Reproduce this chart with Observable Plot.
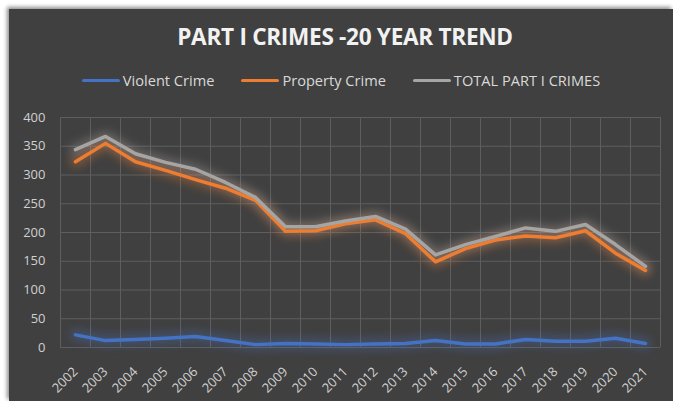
<!DOCTYPE html>
<html>
<head>
<meta charset="utf-8">
<script src="https://cdn.jsdelivr.net/npm/d3@7"></script>
<script src="https://cdn.jsdelivr.net/npm/@observablehq/plot@0.6"></script>
<style>
  html, body { margin: 0; padding: 0; background: #ffffff; width: 673px; height: 401px; overflow: hidden; }
  #frame { position: absolute; left: 9px; top: 9px; width: 664px; height: 392px; background: #404040;
           box-shadow: -2px -2px 4px rgba(0,0,0,0.45); font-family: "Open Sans", sans-serif; }
  #title { position: absolute; left: 4px; width: 100%; top: 12px; text-align: center; color: #f2f2f2;
           font-weight: bold; font-size: 22.6px; letter-spacing: -0.3px; }
  #legend { position: absolute; left: 0; width: 100%; top: 61px; display: flex; justify-content: center;
            gap: 27px; color: #d9d9d9; font-size: 14.6px; }
  .item { display: flex; align-items: center; }
  .sw { width: 38px; height: 3px; border-radius: 2px; margin-right: 3px; }
  #chart { position: absolute; left: 0; top: 86px; }
</style>
</head>
<body>
<div id="frame">
  <div id="title">PART I CRIMES -20 YEAR TREND</div>
  <div id="legend"></div>
  <div id="chart"></div>
</div>
<script>
const years = [2002,2003,2004,2005,2006,2007,2008,2009,2010,2011,2012,2013,2014,2015,2016,2017,2018,2019,2020,2021];
const violent  = [22,12,14,16,19,12,5,7,6,5,6,7,12,6,6,14,11,11,16,7];
const property = [323,355,323,308,292,277,256,202,203,215,222,198,149,172,187,194,191,203,164,134];
const total    = [344,367,337,322,310,287,261,210,210,220,228,206,161,179,193,208,202,214,179,141];
const seriesNames = ["Violent Crime", "Property Crime", "TOTAL PART I CRIMES"];
const seriesColors = ["#4472C4", "#ED7D31", "#A5A5A5"];
const yTicks = [0,50,100,150,200,250,300,350,400];

const seriesValues = [violent, property, total];
const rows = seriesNames.flatMap((name, s) => years.map((year, i) => ({year, value: seriesValues[s][i], series: name})));
const bounds = years.map(y => y - 0.5).concat([years[years.length - 1] + 0.5]);

// legend
const legend = document.getElementById("legend");
seriesNames.forEach((n, i) => {
  const it = document.createElement("div"); it.className = "item";
  const sw = document.createElement("div"); sw.className = "sw"; sw.style.background = seriesColors[i];
  const tx = document.createElement("span"); tx.textContent = n;
  it.appendChild(sw); it.appendChild(tx); legend.appendChild(it);
});

const color = {domain: seriesNames, range: seriesColors};
const plot = Plot.plot({
  width: 664, height: 306,
  marginLeft: 51, marginRight: 13, marginTop: 22, marginBottom: 54,
  style: {background: "transparent", fontFamily: "Open Sans, sans-serif", fontSize: "13px", color: "#d0d0d0"},
  x: {type: "linear", domain: [bounds[0], bounds[bounds.length - 1]], axis: null, label: null},
  y: {domain: [0, 400], axis: null, label: null},
  color,
  marks: [
    Plot.ruleY(yTicks, {stroke: "#5e5e5e", strokeWidth: 1}),
    Plot.ruleX(bounds, {stroke: "#5e5e5e", strokeWidth: 1}),
    Plot.line(rows, {x: "year", y: "value", z: "series", stroke: "series", strokeWidth: 12, strokeOpacity: 0.3}),
    Plot.line(rows, {x: "year", y: "value", z: "series", stroke: "series", strokeWidth: 3.5, strokeLinecap: "round", strokeLinejoin: "round"}),
    Plot.axisY(yTicks, {tickSize: 0, tickPadding: 15, fill: "#d0d0d0", fontSize: 13, label: null}),
    Plot.axisX(years, {tickSize: 0, tickPadding: 12, tickRotate: -45, tickFormat: d => String(d), fill: "#d0d0d0", fontSize: 13, dx: 0, dy: 10, label: null})
  ]
});
// soft glow
const ns = "http://www.w3.org/2000/svg";
const defs = document.createElementNS(ns, "defs");
defs.innerHTML = '<filter id="glow" x="-20%" y="-50%" width="140%" height="200%"><feGaussianBlur stdDeviation="4"/></filter>';
plot.insertBefore(defs, plot.firstChild);
const lineGroups = plot.querySelectorAll('g[aria-label="line"]');
if (lineGroups.length) lineGroups[0].setAttribute("filter", "url(#glow)");
document.getElementById("chart").appendChild(plot);
</script>
</body>
</html>
